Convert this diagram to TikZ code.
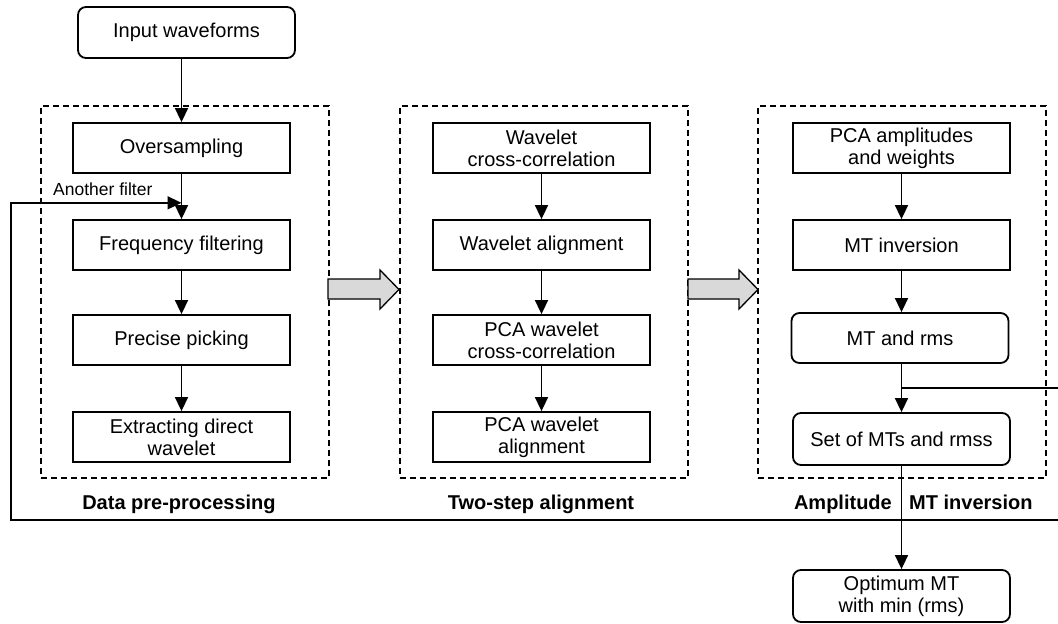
\documentclass[tikz,border=0pt]{standalone}
\usepackage{fontspec}
\setmainfont{Liberation Sans}
\usetikzlibrary{arrows.meta,calc}
\definecolor{arrowgray}{HTML}{D9D9D9}
\begin{document}
\begin{tikzpicture}[x=1pt,y=-1pt,
  box/.style={draw,line width=1.8pt,minimum width=217pt,minimum height=50pt,align=center,
    font=\fontsize{20}{22}\selectfont,inner sep=2pt},
  rbox/.style={box,rounded corners=8pt},
  grp/.style={draw,line width=1.5pt,dash pattern=on 6pt off 4pt,minimum width=288pt,minimum height=372pt,inner sep=0pt},
  arr/.style={line width=1.6pt,-{Triangle[length=14pt,width=13pt]}},
  lbl/.style={font=\bfseries\fontsize{20}{22}\selectfont,inner sep=0pt},
  bigarrow/.style={draw,line width=1.3pt,fill=arrowgray},
]
\useasboundingbox (0,0) rectangle (1058,624);

% groups
\node[grp] (g1) at (185,292) {};
\node[grp] (g2) at (544,292) {};
\node[grp] (g3) at (902,292) {};

% input
\node[rbox,minimum height=51pt] (in) at (186.5,32.5) {Input waveforms};

% column 1
\node[box] (c1a) at (181.5,148) {Oversampling};
\node[box] (c1b) at (181.5,245) {Frequency filtering};
\node[box] (c1c) at (181.5,340) {Precise picking};
\node[box] (c1d) at (181.5,437) {Extracting direct\\wavelet};

% column 2
\node[box] (c2a) at (541.5,148) {Wavelet\\cross-correlation};
\node[box] (c2b) at (541.5,245) {Wavelet alignment};
\node[box] (c2c) at (541.5,340) {PCA wavelet\\cross-correlation};
\node[box] (c2d) at (541.5,437) {PCA wavelet\\alignment};

% column 3
\node[box] (c3a) at (901.5,148) {PCA amplitudes\\and weights};
\node[box] (c3b) at (901.5,245) {MT inversion};
\node[rbox] (c3c) at (900,338) {MT and rms};
\node[rbox,minimum height=52pt] (c3d) at (901.5,439) {Set of MTs and rmss};
\node[rbox,minimum height=52pt] (opt) at (901.5,596) {Optimum MT\\with min (rms)};

% labels
\node[lbl,anchor=base] (l1) at (179,509) {Data pre-processing};
\node[lbl,anchor=base] (l2) at (541,509) {Two-step alignment};
\node[lbl,anchor=base east] (l3a) at (892,509) {Amplitude};
\node[lbl,anchor=base west] (l3b) at (909,509) {MT inversion};
\node[anchor=west,font=\fontsize{17.5}{20}\selectfont,inner sep=0pt] (lf) at (53,189) {Another filter};

% block arrows
\draw[bigarrow] (328,279) -- (380,279) -- (380,270) -- (399,289.5) -- (380,309) -- (380,299) -- (328,299) -- cycle;
\draw[bigarrow] (688,279) -- (739,279) -- (739,270) -- (758,289.5) -- (739,309) -- (739,299) -- (688,299) -- cycle;

% connectors
\draw[arr] (c1a.north |- in.south) -- (c1a.north);
\draw[arr] (c1a) -- (c1b);
\draw[arr] (c1b) -- (c1c);
\draw[arr] (c1c) -- (c1d);
\draw[arr] (c2a) -- (c2b);
\draw[arr] (c2b) -- (c2c);
\draw[arr] (c2c) -- (c2d);
\draw[arr] (c3a) -- (c3b);
\draw[arr] (c3b.south) -- (c3c.north -| c3b.south);
\draw[arr] (c3c.south -| c3d.north) -- (c3d.north);
\draw[arr] (c3d) -- (opt);

% feedback loop
\coordinate (fb) at ($(c3c.south -| c3d.north)!0.5!(c3d.north)$);
\coordinate (af) at ($(c1a.south)!0.64!(c1b.north)$);
\coordinate (rc) at (1061,520);
\coordinate (lc) at (11,520);
\draw[arr] (fb) -| (rc) -- (lc) |- (af);
\end{tikzpicture}
\end{document}
